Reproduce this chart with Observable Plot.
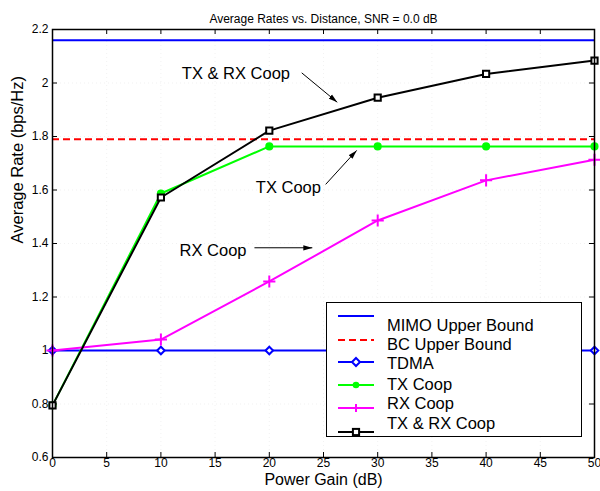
<!DOCTYPE html>
<html>
<head>
<meta charset="utf-8">
<script src="https://cdn.jsdelivr.net/npm/d3@7"></script>
<script src="https://cdn.jsdelivr.net/npm/@observablehq/plot@0.6"></script>
<style>
  html, body { margin: 0; padding: 0; background: #fff; }
  #chart svg { display: block; }
</style>
</head>
<body>
<div id="chart"></div>
<script>
// ---- data ----
const powerGain = [0, 10, 20, 30, 40, 50];
const mimoUpperBound = [2.16];
const bcUpperBound = [1.79];
const tdma = [1.0, 1.0, 1.0, 1.0, 1.0, 1.0];
const txCoop = [0.795, 1.587, 1.763, 1.763, 1.763, 1.763];
const rxCoop = [1.0, 1.041, 1.258, 1.486, 1.636, 1.713];
const txRxCoop = [0.795, 1.572, 1.822, 1.945, 2.034, 2.084];
const xTicks = [0, 5, 10, 15, 20, 25, 30, 35, 40, 45, 50];
const yTicks = [0.6, 0.8, 1.0, 1.2, 1.4, 1.6, 1.8, 2.0, 2.2];
const legendLabels = ["MIMO Upper Bound", "BC Upper Bound", "TDMA", "TX Coop", "RX Coop", "TX & RX Coop"];
const annotationTexts = ["TX & RX Coop", "TX Coop", "RX Coop"];
const annotationX = [16.92, 21.76, 14.81];
const annotationY = [2.034, 1.610, 1.374];
const arrowX1 = [22.99, 25.2, 18.63];
const arrowY1 = [2.038, 1.621, 1.384];
const arrowX2 = [26.27, 28.06, 23.97];
const arrowY2 = [1.928, 1.748, 1.384];

const W = 600, H = 491;
const mL = 52, mR = 6, mT = 29, mB = 34;
const innerH = H - mT - mB, innerW = W - mL - mR;
const font = "'Liberation Sans', Arial, Helvetica, sans-serif";

const toRows = (vals) => powerGain.map((x, i) => ({x, y: vals[i]}));
const annotations = annotationTexts.map((t, i) => ({t, x: annotationX[i], y: annotationY[i]}));
const arrows = arrowX1.map((_, i) => ({x1: arrowX1[i], y1: arrowY1[i], x2: arrowX2[i], y2: arrowY2[i]}));

function filledArrow(color) {
  return d3.create("svg:marker")
    .attr("viewBox", "-9 -3 9 6")
    .attr("markerWidth", 9)
    .attr("markerHeight", 6)
    .attr("refX", 0)
    .attr("refY", 0)
    .attr("orient", "auto")
    .attr("markerUnits", "userSpaceOnUse")
    .call(m => m.append("path").attr("d", "M-9,-2.6L0,0L-9,2.6Z").attr("fill", color).attr("stroke", "none"))
    .node();
}

const gridStyle = {stroke: "#555", strokeWidth: 0.8, strokeDasharray: "1,3"};

const chart = Plot.plot({
  width: W, height: H,
  marginLeft: mL, marginRight: mR, marginTop: mT, marginBottom: mB,
  style: {fontFamily: font, fontSize: "12px", color: "#000", background: "#fff"},
  x: {domain: [0, 50]},
  y: {domain: [0.6, 2.2]},
  marks: [
    Plot.gridX(xTicks, gridStyle),
    Plot.gridY(yTicks, gridStyle),
    // inward tick marks
    Plot.ruleX(xTicks, {x: d => d, insetTop: innerH - 5, stroke: "#000"}),
    Plot.ruleX(xTicks, {x: d => d, insetBottom: innerH - 5, stroke: "#000"}),
    Plot.ruleY(yTicks, {y: d => d, insetRight: innerW - 5, stroke: "#000"}),
    Plot.ruleY(yTicks, {y: d => d, insetLeft: innerW - 5, stroke: "#000"}),
    Plot.axisX(xTicks, {tickSize: 0, tickPadding: 1, label: null, fontSize: 12}),
    Plot.axisY(yTicks, {tickSize: 0, tickPadding: 4, label: null, fontSize: 12,
      tickFormat: d => String(+d.toFixed(1))}),
    // series
    Plot.ruleY(mimoUpperBound, {stroke: "#0000ff", strokeWidth: 2}),
    Plot.ruleY(bcUpperBound, {stroke: "#ff0000", strokeWidth: 2, strokeDasharray: "7,4"}),
    Plot.line(toRows(tdma), {x: "x", y: "y", stroke: "#0000ff", strokeWidth: 2}),
    Plot.dot(toRows(tdma), {x: "x", y: "y", symbol: "diamond2", r: 3.4, stroke: "#0000ff", strokeWidth: 2, fill: "#fff"}),
    Plot.line(toRows(txCoop), {x: "x", y: "y", stroke: "#00ff00", strokeWidth: 2}),
    Plot.dot(toRows(txCoop), {x: "x", y: "y", symbol: "circle", r: 3.3, fill: "#00ff00", stroke: "#00ff00"}),
    Plot.line(toRows(rxCoop), {x: "x", y: "y", stroke: "#ff00ff", strokeWidth: 2}),
    Plot.dot(toRows(rxCoop), {x: "x", y: "y", symbol: "plus", r: 4, stroke: "#ff00ff", strokeWidth: 2}),
    Plot.line(toRows(txRxCoop), {x: "x", y: "y", stroke: "#000", strokeWidth: 2}),
    Plot.dot(toRows(txRxCoop), {x: "x", y: "y", symbol: "square", r: 3.5, stroke: "#000", strokeWidth: 2, fill: "#fff"}),
    // annotations
    Plot.text(annotations, {x: "x", y: "y", text: "t", fontSize: 16.5, fill: "#000"}),
    Plot.link(arrows, {x1: "x1", y1: "y1", x2: "x2", y2: "y2", stroke: "#000", strokeWidth: 1, markerEnd: filledArrow}),
    Plot.frame({stroke: "#000", strokeWidth: 1.5}),
    // titles
    Plot.text(["Average Rates vs. Distance, SNR = 0.0 dB"], {frameAnchor: "top", dy: -15, fontSize: 12, fill: "#000"}),
    Plot.text(["Power Gain (dB)"], {frameAnchor: "bottom", dy: 27, fontSize: 16, fill: "#000"}),
    Plot.text(["Average Rate (bps/Hz)"], {frameAnchor: "left", dx: -35, rotate: -90, fontSize: 16.5, fill: "#000"})
  ]
});

// ---- legend (drawn on top like MATLAB) ----
const svg = d3.select(chart);
const lg = svg.append("g").attr("font-family", font).attr("font-size", 16.5).attr("text-anchor", "start");
lg.append("rect").attr("x", 326.5).attr("y", 302.5).attr("width", 255).attr("height", 134)
  .attr("fill", "#fff").attr("stroke", "#000").attr("stroke-width", 1);
const legendLineY = [316, 340, 362, 385, 408, 432];
const legendTextY = [325, 344, 363, 384, 403, 423];
const legendStyle = [
  {c: "#0000ff", dash: null, m: null},
  {c: "#ff0000", dash: "7,4", m: null},
  {c: "#0000ff", dash: null, m: "diamond"},
  {c: "#00ff00", dash: null, m: "circle"},
  {c: "#ff00ff", dash: null, m: "plus"},
  {c: "#000000", dash: null, m: "square"}
];
legendLabels.forEach((label, i) => {
  const s = legendStyle[i], ly = legendLineY[i], cx = 356;
  lg.append("line").attr("x1", 338).attr("x2", 374).attr("y1", ly).attr("y2", ly)
    .attr("stroke", s.c).attr("stroke-width", 2).attr("stroke-dasharray", s.dash);
  if (s.m === "diamond") {
    lg.append("path").attr("d", `M${cx},${ly-4}L${cx+4},${ly}L${cx},${ly+4}L${cx-4},${ly}Z`)
      .attr("fill", "#fff").attr("stroke", s.c).attr("stroke-width", 2);
  } else if (s.m === "circle") {
    lg.append("circle").attr("cx", cx).attr("cy", ly).attr("r", 3.3).attr("fill", s.c);
  } else if (s.m === "plus") {
    lg.append("path").attr("d", `M${cx-4},${ly}H${cx+4}M${cx},${ly-4}V${ly+4}`)
      .attr("stroke", s.c).attr("stroke-width", 2);
  } else if (s.m === "square") {
    lg.append("rect").attr("x", cx - 3.1).attr("y", ly - 3.1).attr("width", 6.2).attr("height", 6.2)
      .attr("fill", "#fff").attr("stroke", s.c).attr("stroke-width", 2);
  }
  lg.append("text").attr("x", 387).attr("y", legendTextY[i]).attr("dy", "0.35em")
    .attr("fill", "#000").attr("text-anchor", "start").text(label);
});

document.getElementById("chart").appendChild(chart);
</script>
</body>
</html>
